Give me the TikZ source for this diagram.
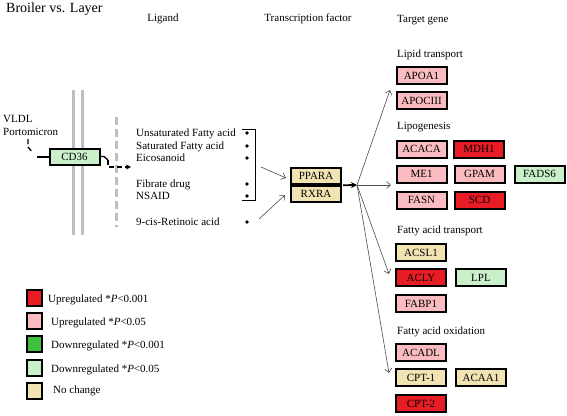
\documentclass[tikz,border=0pt]{standalone}
\usepackage{fontspec}
\setmainfont{Liberation Serif}
\usetikzlibrary{arrows.meta}
\definecolor{upstrong}{RGB}{232,28,36}
\definecolor{upweak}{RGB}{250,188,192}
\definecolor{downstrong}{RGB}{64,192,64}
\definecolor{downweak}{RGB}{202,240,202}
\definecolor{nochange}{RGB}{242,228,178}
\begin{document}
\begin{tikzpicture}[x=1pt,y=-1pt,
  lbl/.style={inner sep=0pt, font=\fontsize{11pt}{13pt}\selectfont, anchor=base west},
  genebox/.style={draw=black, line width=2pt, minimum width=50pt, minimum height=17pt, inner sep=0pt, font=\fontsize{11pt}{13pt}\selectfont},
  legbox/.style={draw=black, line width=2pt, minimum width=15pt, minimum height=16pt, inner sep=0pt},
  thinarrow/.style={draw=black!70, line width=0.6pt, -{Straight Barb[length=4pt,width=7pt]}},
  membrane/.style={draw=black!25, line width=3pt},
  dashconn/.style={draw=black, line width=1.3pt, dash pattern=on 5pt off 3pt},
]
\useasboundingbox (0,0) rectangle (567,415);

% title and headers
\node[inner sep=0pt, font=\fontsize{14pt}{16pt}\selectfont, anchor=base west] (title) at (6,12.5) {Broiler vs. Layer};
\node[lbl, anchor=base] (hlig) at (163,21) {Ligand};
\node[lbl, anchor=base] (htf) at (308,21.5) {Transcription factor};
\node[lbl] (htg) at (397,22) {Target gene};

% membranes
\coordinate (m1t) at (73,90); \coordinate (m1b) at (73,235);
\coordinate (m2t) at (82,90); \coordinate (m2b) at (82,235);
\coordinate (m3t) at (116,117); \coordinate (m3b) at (116,227);
\draw[membrane] (m1t) -- (m1b);
\draw[membrane] (m2t) -- (m2b);
\draw[membrane, dash pattern=on 8pt off 4pt] (m3t) -- (m3b);

% VLDL and CD36
\node[lbl] (vldl) at (3,122) {VLDL};
\node[lbl] (porto) at (3,135.5) {Portomicron};
\node[genebox, fill=downweak, minimum height=16pt] (cd36) at (74.5,157) {CD36};
\coordinate (v1) at (28,139);
\coordinate (v2) at (28,147);
\coordinate (v3) at (33,153);
\coordinate (v4) at (37,157);
\draw[dashconn] (v1) -- (v2) -- (v3);
\draw[line width=1.3pt] (v4) -- (cd36.west);
\coordinate (c1) at (104,156.5);
\coordinate (c2) at (108,160);
\coordinate (c3) at (108,167);
\coordinate (c4) at (131,167);
\draw[line width=1.3pt] (cd36.east |- c1) -- (c1) -- (c2);
\draw[dashconn, -{Stealth[length=5pt,width=5pt]}] (c2) -- (c3) -- (c4);

% ligands
\node[lbl] (l1) at (136,136) {Unsaturated Fatty acid};
\node[lbl] (l2) at (136,149.5) {Saturated Fatty acid};
\node[lbl] (l3) at (136,161.5) {Eicosanoid};
\node[lbl] (l4) at (136,187) {Fibrate drug};
\node[lbl] (l5) at (136,199) {NSAID};
\node[lbl] (l6) at (136,225.5) {9-cis-Retinoic acid};
\foreach \yy/\nm in {133/d1,146/d2,158/d3,184/d4,196/d5,222/d6}
  \fill (247,\yy) circle (1.9pt) coordinate (\nm);
\coordinate (b1) at (242,129); \coordinate (b2) at (255,129);
\coordinate (b3) at (255,200); \coordinate (b4) at (242,200);
\draw[line width=1pt] (b1) -- (b2) -- (b3) -- (b4);

% transcription factors
\node[genebox, fill=nochange, minimum height=16.5pt] (ppara) at (316,176) {PPARA};
\node[genebox, fill=nochange, minimum height=16.5pt] (rxra) at (316,194) {RXRA};
\coordinate (a1s) at (261,167); \coordinate (a1e) at (286,178);
\coordinate (a2s) at (259,219); \coordinate (a2e) at (285,195);
\draw[thinarrow] (a1s) -- (a1e);
\draw[thinarrow] (a2s) -- (a2e);
\coordinate (j) at (357,185);
\draw[line width=1.8pt, -{Stealth[length=6pt,width=6pt]}] (ppara.south east) ++(1,0) -- (j);

% target gene section labels
\node[lbl] (s1) at (397,57) {Lipid transport};
\node[lbl] (s2) at (397,129.5) {Lipogenesis};
\node[lbl] (s3) at (397,233.5) {Fatty acid transport};
\node[lbl] (s4) at (397,334) {Fatty acid oxidation};

% genes
\node[genebox, fill=upweak] (apoa1) at (421.5,75.5) {APOA1};
\node[genebox, fill=upweak] (apociii) at (421.5,100.5) {APOCIII};
\node[genebox, fill=upweak] (acaca) at (421.5,149) {ACACA};
\node[genebox, fill=upstrong] (mdh1) at (479,149) {MDH1};
\node[genebox, fill=upweak] (me1) at (421.5,174) {ME1};
\node[genebox, fill=upweak] (gpam) at (479.5,174) {GPAM};
\node[genebox, fill=downweak] (fads6) at (539.5,174) {FADS6};
\node[genebox, fill=upweak] (fasn) at (421.5,200) {FASN};
\node[genebox, fill=upstrong] (scd) at (479.5,200) {SCD};
\node[genebox, fill=nochange] (acsl1) at (421,252.5) {ACSL1};
\node[genebox, fill=upstrong] (acly) at (421,277.5) {ACLY};
\node[genebox, fill=downweak] (lpl) at (481,277.5) {LPL};
\node[genebox, fill=upweak] (fabp1) at (421,303.5) {FABP1};
\node[genebox, fill=upweak] (acadl) at (421,352.5) {ACADL};
\node[genebox, fill=nochange] (cpt1) at (421,377.5) {CPT-1};
\node[genebox, fill=nochange] (acaa1) at (481,377.5) {ACAA1};
\node[genebox, fill=upstrong] (cpt2) at (421,403.5) {CPT-2};

% target arrows
\coordinate (t1) at (390,90);
\coordinate (t2) at (391,185);
\coordinate (t3) at (389,274);
\coordinate (t4) at (389,373);
\draw[thinarrow] (j) -- (t1);
\draw[thinarrow] (j) -- (t2);
\draw[thinarrow] (j) -- (t3);
\draw[thinarrow] (j) -- (t4);

% legend
\node[legbox, fill=upstrong] (k1) at (34.5,297.5) {};
\node[legbox, fill=upweak] (k2) at (34.5,321) {};
\node[legbox, fill=downstrong] (k3) at (34.5,344) {};
\node[legbox, fill=downweak] (k4) at (34.5,368) {};
\node[legbox, fill=nochange] (k5) at (34.5,391) {};
\node[lbl] (kt1) at (48,302) {Upregulated *\textit{P}<0.001};
\node[lbl] (kt2) at (51,325) {Upregulated *\textit{P}<0.05};
\node[lbl] (kt3) at (51,348) {Downregulated *\textit{P}<0.001};
\node[lbl] (kt4) at (51,372.5) {Downregulated *\textit{P}<0.05};
\node[lbl] (kt5) at (53,393) {No change};
\end{tikzpicture}
\end{document}
